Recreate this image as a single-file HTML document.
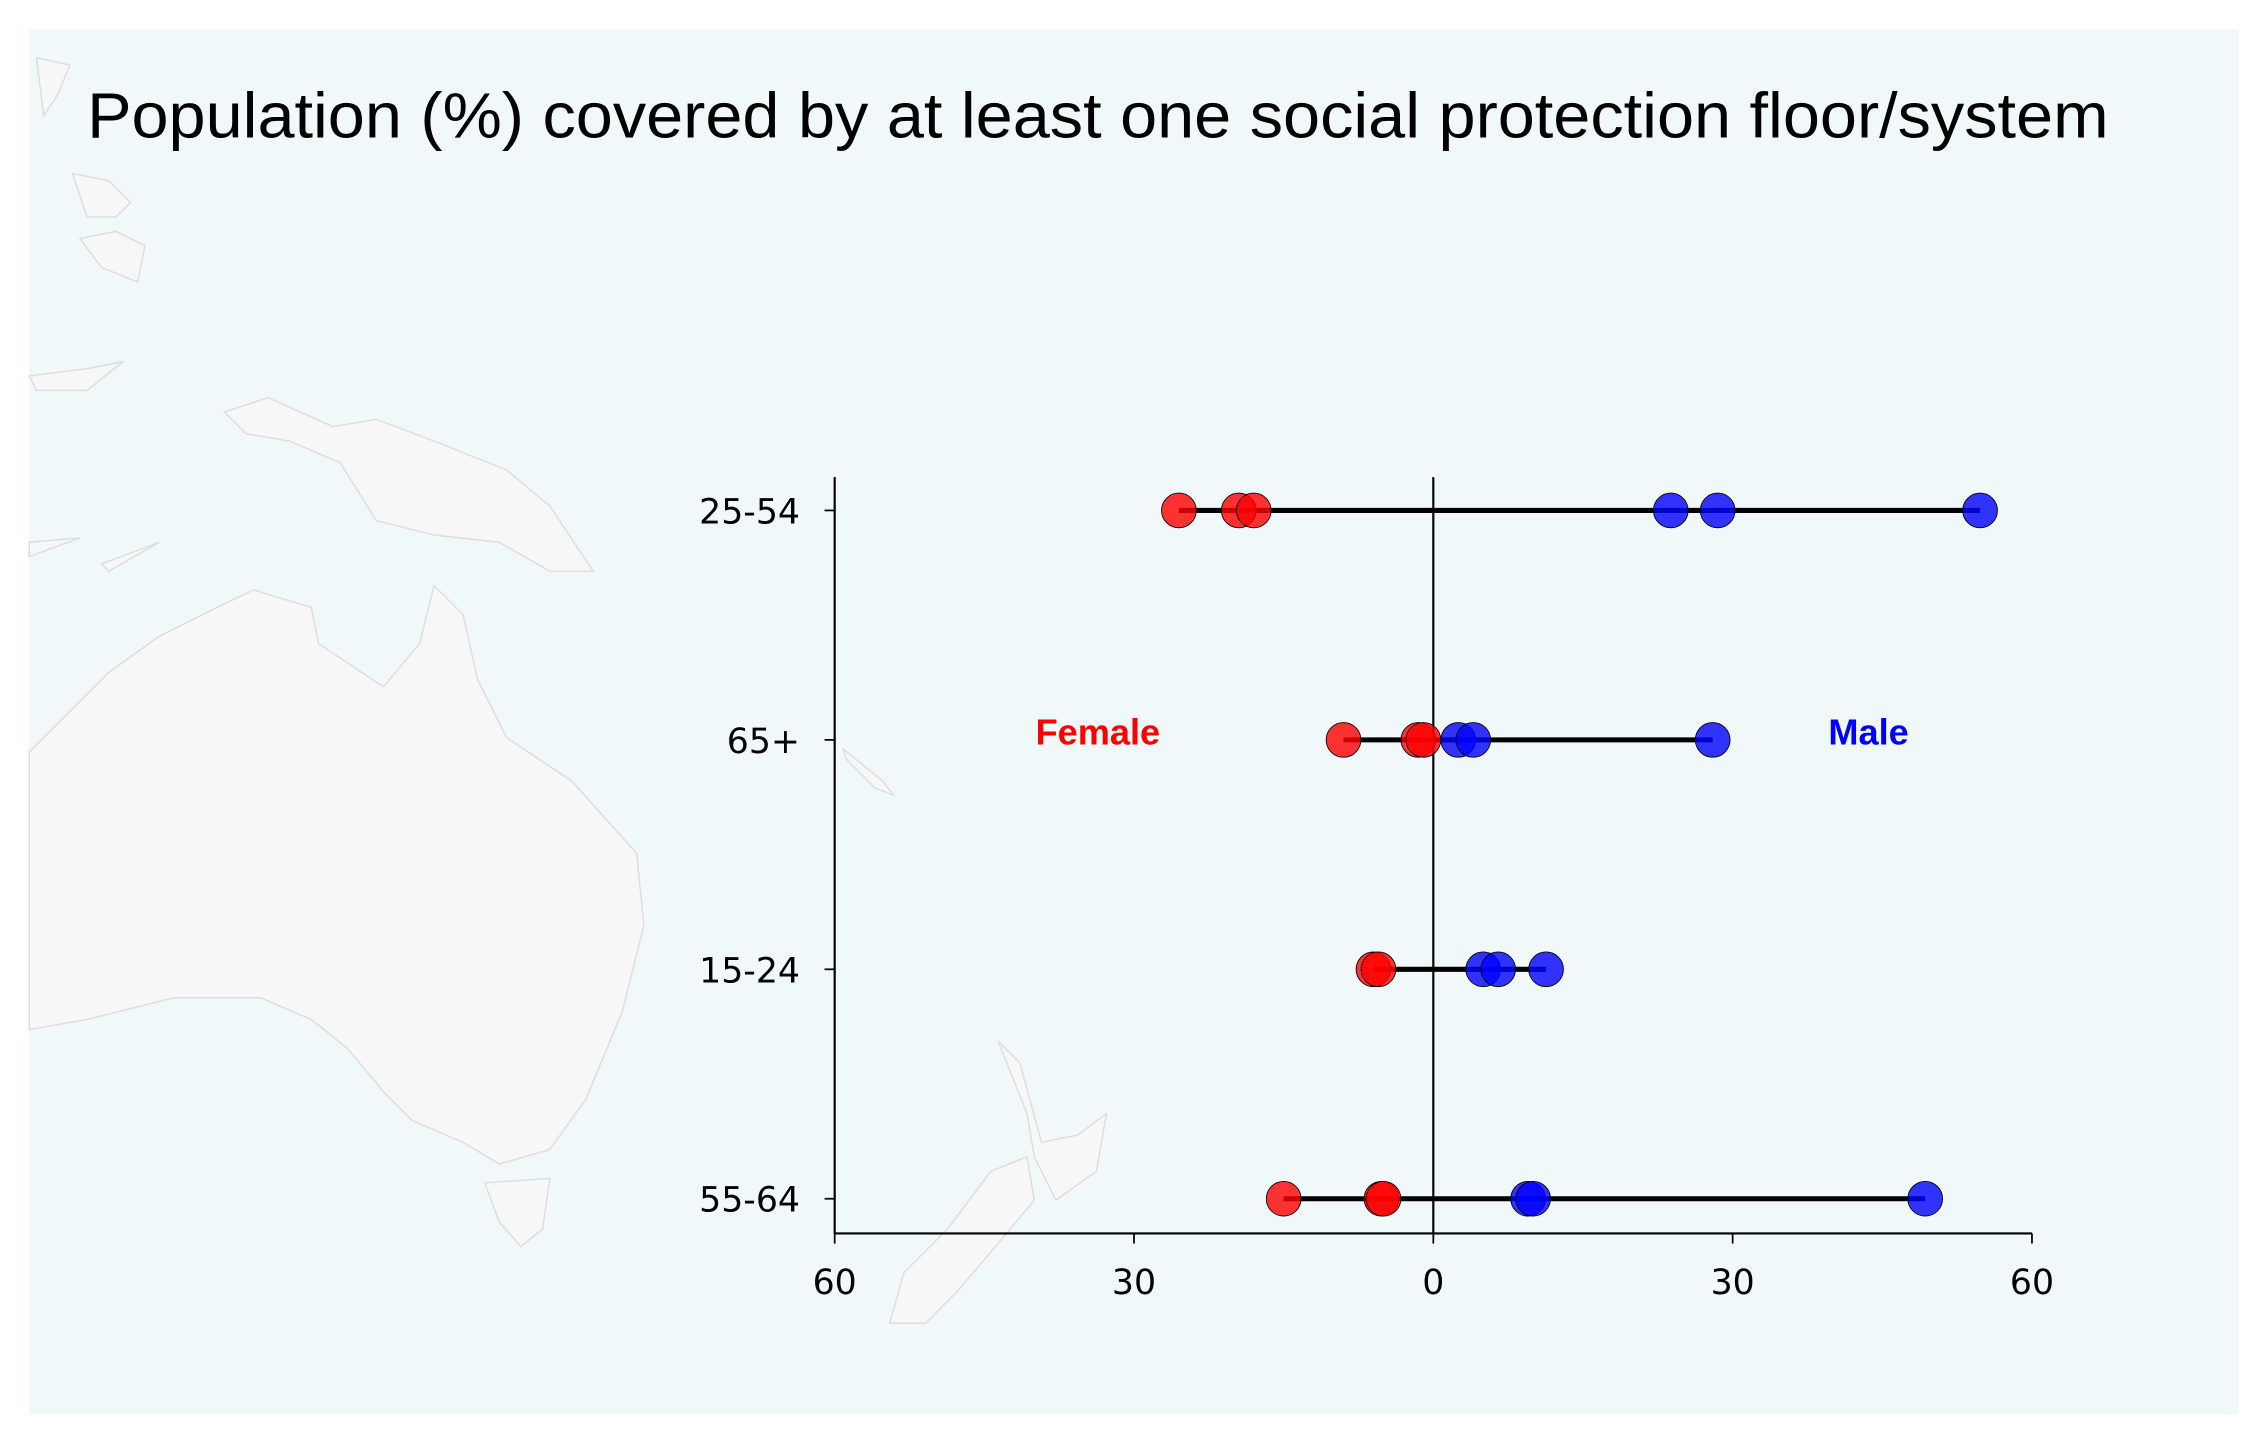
<!DOCTYPE html>
<html><head><meta charset="utf-8"><style>
html,body{margin:0;padding:0;background:#fff;}
svg{display:block;}
text{font-family:"Liberation Sans","DejaVu Sans",sans-serif;}
</style></head><body>
<svg id="chart" width="2268" height="1446" viewBox="0 0 1568 1000" xmlns="http://www.w3.org/2000/svg">
<rect x="20" y="20" width="1528" height="958" fill="#f0f8f9"/>
<g fill="#f7f7f7" stroke="#dddddd" stroke-width="1">
<path d="M20,520 L50,490 L75,465 L110,440 L150,420 L175,408 L215,420 L220,445 L265,475 L290,445 L300,405 L320,425 L330,470 L350,510 L395,540 L440,590 L445,640 L430,700 L405,760 L380,795 L345,805 L320,790 L285,775 L265,755 L240,725 L215,705 L180,690 L120,690 L60,705 L20,712 Z"/>
<path d="M155,285 L185,275 L230,295 L260,290 L300,305 L350,325 L380,350 L410,395 L380,395 L345,375 L300,370 L260,360 L235,320 L200,305 L170,300 Z"/>
<path d="M335,818 L380,815 L375,850 L360,862 L345,845 Z"/>
<path d="M690,720 L705,735 L720,790 L745,785 L765,770 L758,810 L730,830 L715,800 L710,770 Z"/>
<path d="M685,810 L710,800 L715,830 L690,860 L660,895 L640,915 L615,915 L625,880 L655,850 Z"/>
<path d="M583,518 L610,540 L618,550 L605,545 L585,525 Z"/>
<path d="M25,40 L48,45 L40,65 L30,80 Z M50,120 L75,125 L90,140 L80,150 L60,150 Z M55,165 L80,160 L100,170 L95,195 L70,185 Z"/>
<path d="M20,260 L60,255 L85,250 L60,270 L25,270 Z M20,375 L55,372 L20,385 Z M70,390 L110,375 L75,395 Z"/>
</g>
<text x="60" y="95" font-size="44" fill="#000" textLength="1398" lengthAdjust="spacingAndGlyphs">Population (%) covered by at least one social protection floor/system</text>
<g id="plot"></g>
</svg>
<script>
const categories = ["25-54", "65+", "15-24", "55-64"];
const femaleValues = [[-25.5, -19.5, -18], [-9, -1.5, -1], [-6, -5.5], [-15, -5.2, -5]];
const maleValues = [[23.8, 28.5, 54.8], [2.5, 4, 28], [5, 6.5, 11.3], [9.5, 10, 49.3]];
const xTicks = [-60, -30, 0, 30, 60];
const xTickLabels = ["60", "30", "0", "30", "60"];

const NS = "http://www.w3.org/2000/svg";
const plot = document.getElementById("plot");
const X0 = 577, X1 = 1405, Y0 = 353, Y1 = 829;
function xs(v){ return X0 + (v + 60) / 120 * (X1 - X0); }
function ys(i){ return Y0 + i * (Y1 - Y0) / (categories.length - 1); }
function mk(tag, attrs){ const e = document.createElementNS(NS, tag); for (const k in attrs) e.setAttribute(k, attrs[k]); plot.appendChild(e); return e; }

let e;
e = mk("line", {x1: X0, y1: 330, x2: X0, y2: 853, stroke: "#000", "stroke-width": 1.5});


e = mk("line", {x1: X0, y1: 853, x2: X1, y2: 853, stroke: "#000", "stroke-width": 1.5});


e = mk("line", {x1: xs(0), y1: 330, x2: xs(0), y2: 853, stroke: "#000", "stroke-width": 1.5});



xTicks.forEach((t, i) => {
  e = mk("line", {x1: xs(t), y1: 853, x2: xs(t), y2: 860, stroke: "#000", "stroke-width": 1.2});
  
  
  e = mk("text", {x: xs(t), y: 895, "font-size": 24, "text-anchor": "middle", fill: "#000", style: "font-family:'DejaVu Sans',sans-serif"});
  e.textContent = xTickLabels[i];
  
  
});

categories.forEach((c, i) => {
  const y = ys(i);
  e = mk("line", {x1: X0 - 7, y1: y, x2: X0, y2: y, stroke: "#000", "stroke-width": 1.2});
  
  
  e = mk("text", {x: X0 - 24, y: y + 9, "font-size": 24, "text-anchor": "end", fill: "#000", style: "font-family:'DejaVu Sans',sans-serif"});
  e.textContent = c;
  
  
  const all = femaleValues[i].concat(maleValues[i]);
  e = mk("line", {x1: xs(Math.min(...all)), y1: y, x2: xs(Math.max(...all)), y2: y, stroke: "#000", "stroke-width": 3.5});
  
  
  femaleValues[i].forEach(v => {
    e = mk("circle", {cx: xs(v), cy: y, r: 12, fill: "rgba(255,0,0,0.8)", stroke: "#000", "stroke-width": 0.6});
    
    
  });
  maleValues[i].forEach(v => {
    e = mk("circle", {cx: xs(v), cy: y, r: 12, fill: "rgba(0,0,255,0.8)", stroke: "#000", "stroke-width": 0.6});
    
    
  });
});

e = mk("text", {x: 759, y: 515, "font-size": 25, "font-weight": "bold", "text-anchor": "middle", fill: "#ff0000"});
e.textContent = "Female";


e = mk("text", {x: 1292, y: 515, "font-size": 25, "font-weight": "bold", "text-anchor": "middle", fill: "#0000ff"});
e.textContent = "Male";


</script>
</body></html>
